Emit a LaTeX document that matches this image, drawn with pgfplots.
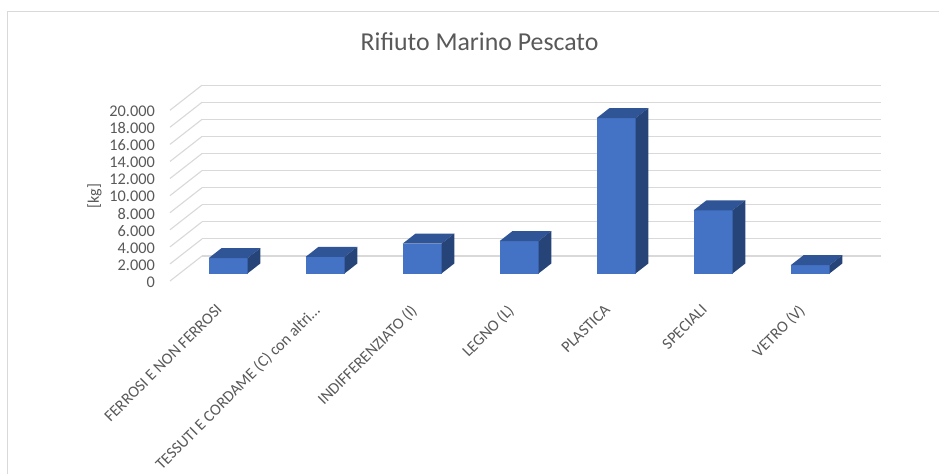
\documentclass[border=0pt]{standalone}
\usepackage{fontspec}
\setmainfont{Carlito}
\usepackage{pgfplots}
\usepackage{pgfplotstable}
\pgfplotsset{compat=1.18}
\definecolor{barfront}{HTML}{4472C4}
\definecolor{bartop}{HTML}{2F5597}
\definecolor{barside}{HTML}{264478}
\definecolor{txt}{HTML}{595959}
\definecolor{gridc}{HTML}{D9D9D9}

\pgfplotstableread[col sep=semicolon]{
pos;kg;label
0.5;1800;FERROSI  E NON FERROSI
1.5;1950;TESSUTI E CORDAME (C) con altri…
2.5;3500;INDIFFERENZIATO (I)
3.5;3800;LEGNO (L)
4.5;18200;PLASTICA
5.5;7400;SPECIALI
6.5;970;VETRO (V)
}\rifiuti

\newcommand\cuboid[1]{%
  \pgfplotstablegetelem{#1}{pos}\of\rifiuti \let\cpos\pgfplotsretval
  \pgfplotstablegetelem{#1}{kg}\of\rifiuti \let\val\pgfplotsretval
  \pgfmathsetmacro\xa{\cpos-0.2}\pgfmathsetmacro\xb{\cpos+0.2}%
  \addplot3[fill=barfront, draw=none, forget plot] coordinates {(\xa,0.3,0) (\xb,0.3,0) (\xb,0.3,\val) (\xa,0.3,\val)};
  \addplot3[fill=bartop, draw=none, forget plot] coordinates {(\xa,0.3,\val) (\xb,0.3,\val) (\xb,0.7,\val) (\xa,0.7,\val)};
  \addplot3[fill=barside, draw=none, forget plot] coordinates {(\xb,0.3,0) (\xb,0.7,0) (\xb,0.7,\val) (\xb,0.3,\val)};
}

\begin{document}
\begin{tikzpicture}
\useasboundingbox (0,0) rectangle (939pt,474pt);
\fill[white] (0,0) rectangle (939pt,474pt);
\draw[gridc, line width=1pt] (7pt,0) -- (7pt,462pt) -- (939pt,462pt);
\begin{axis}[
  at={(170pt,193pt)}, anchor=origin,
  x={(97pt,0pt)}, y={(32pt,25pt)}, z={(0pt,0.00855pt)},
  xmin=0, xmax=7, ymin=0, ymax=1, zmin=0, zmax=20000,
  xtick={0.5,1.5,2.5,3.5,4.5,5.5,6.5},
  xticklabels from table={\rifiuti}{label},
  ytick=\empty,
  ztick={0,2000,...,20000},
  zmajorgrids,
  major grid style={gridc, line width=1.1pt},
  axis line style={draw=none},
  major tick length=0pt,
  scaled z ticks=false,
  clip=false,
  zticklabel style={/pgf/number format/1000 sep={.}, /pgf/number format/assume math mode=true, font=\fontsize{16.3}{16.3}\selectfont, text=txt, inner sep=0pt, anchor=east, xshift=-15pt, yshift=-1pt},
  xticklabel style={font=\fontsize{16}{16}\selectfont, text=txt, inner sep=0pt, xshift=-3pt, yshift=-22pt, rotate=45, anchor=north east},
]
\pgfplotsinvokeforeach{0,...,6}{\cuboid{#1}}
\end{axis}
\node[anchor=base, text=txt, font=\fontsize{25.8}{25.8}\selectfont] at (479.5pt,423.3pt) {Rifiuto Marino Pescato};
\node[rotate=90, text=txt, inner sep=0pt, font=\fontsize{16}{16}\selectfont] at (94.5pt,278pt) {[kg]};
\end{tikzpicture}
\end{document}
